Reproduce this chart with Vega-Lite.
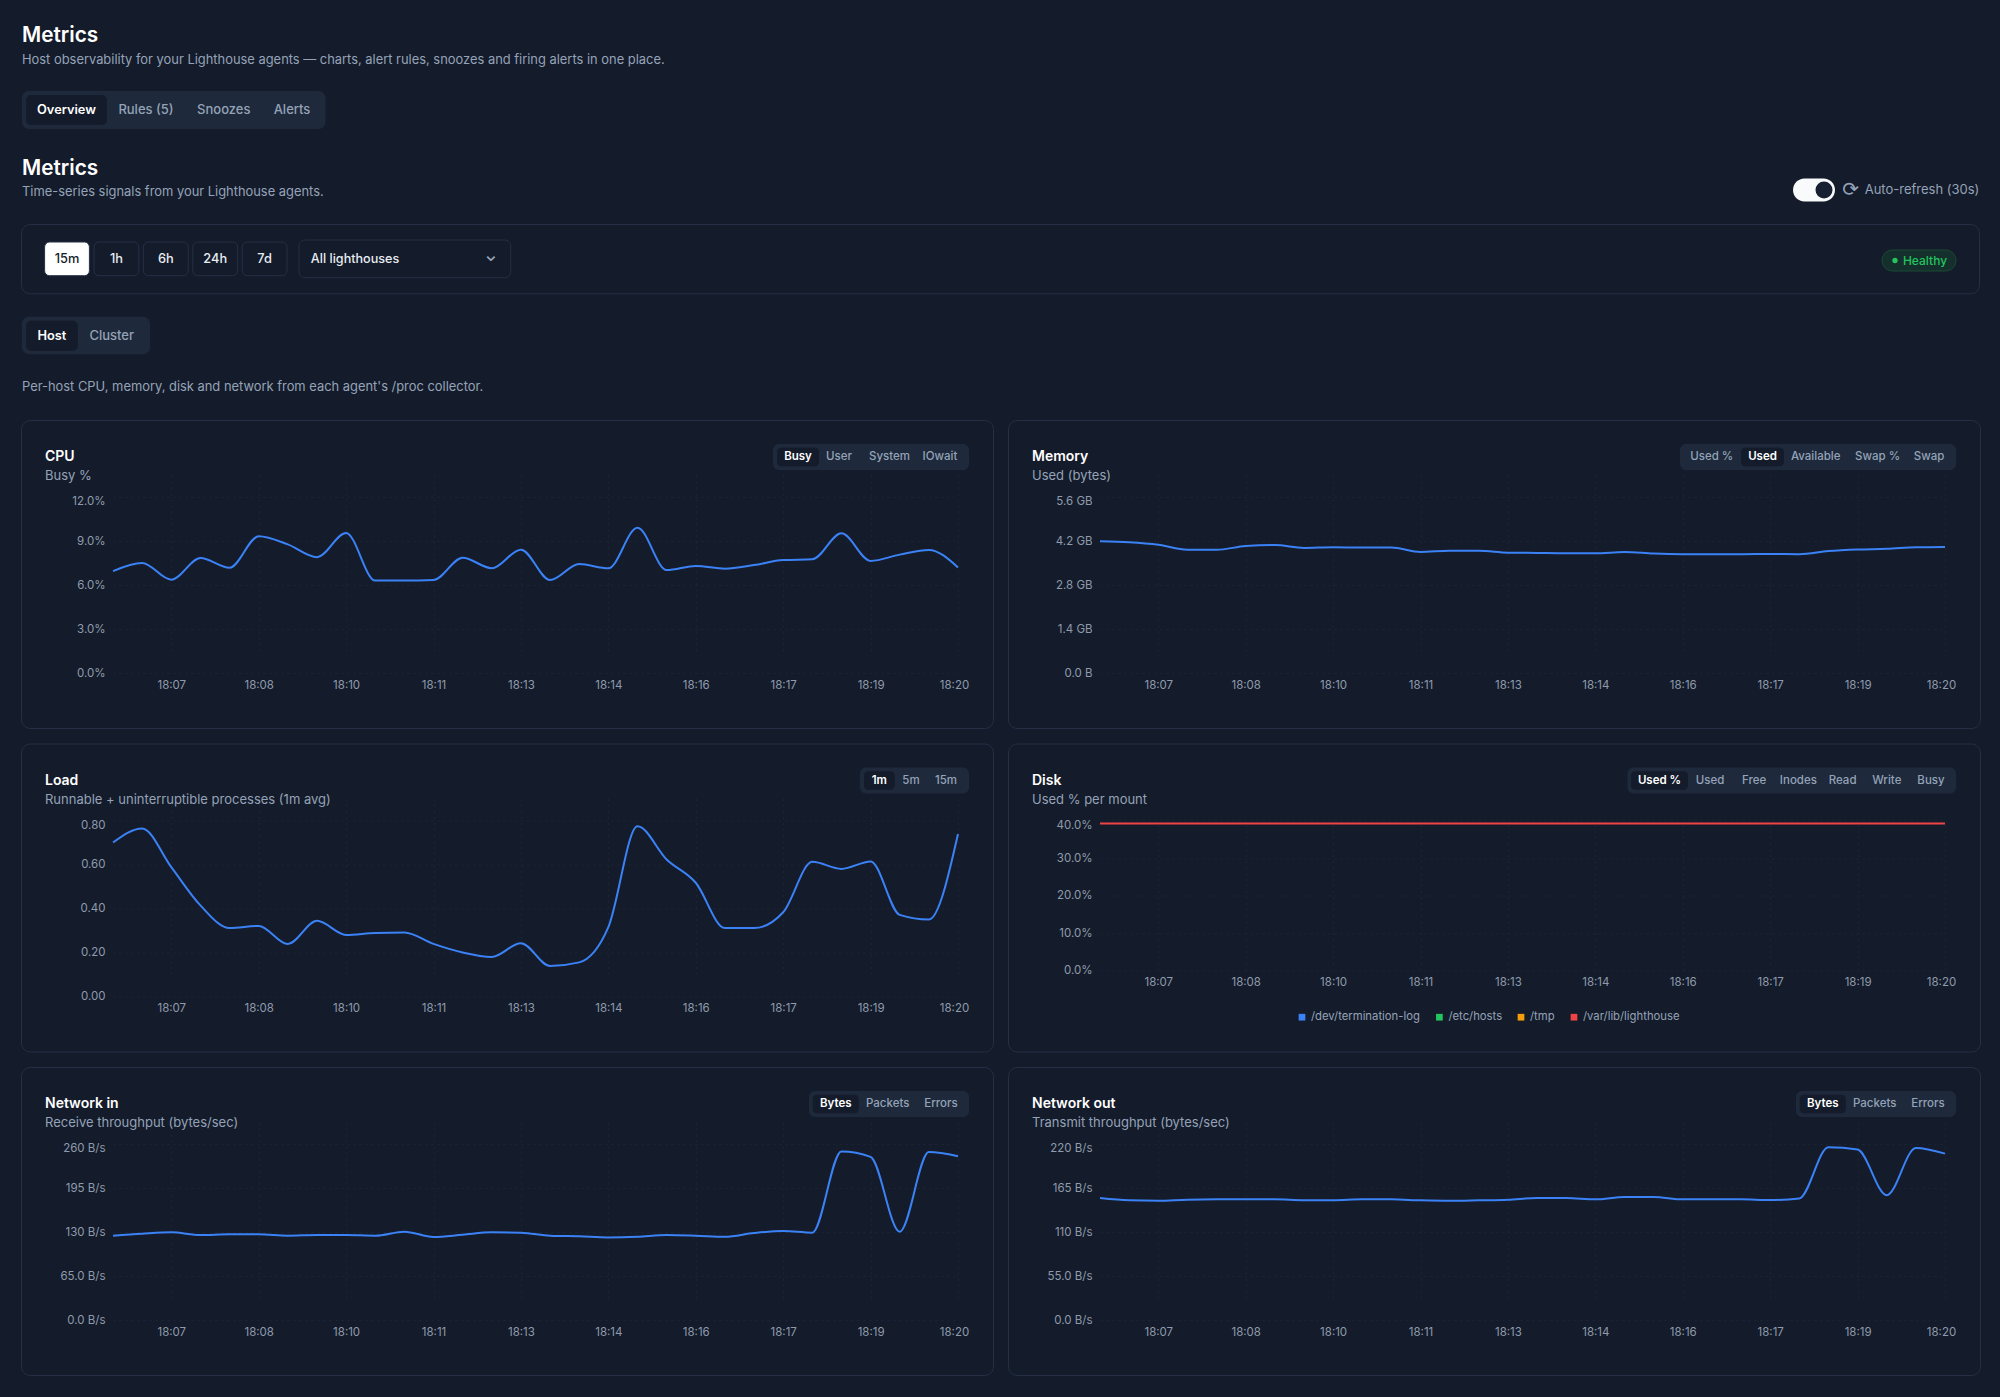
{"$schema":"https://vega.github.io/schema/vega-lite/v6.json","background":"#141b2a","padding":{"left":20,"top":0,"right":21,"bottom":22},"spacing":0,"config":{"font":"Inter","view":{"stroke":null},"text":{"font":"Inter","baseline":"middle"},"axis":{"domain":false,"ticks":false,"title":null,"labelFont":"Inter","labelFontSize":11.5,"labelColor":"#8f9bad","gridColor":"#1c2536","gridDash":[2,4],"labelOverlap":false,"labelFlush":false},"title":{"font":"Inter","fontSize":14,"fontWeight":600,"color":"#ffffff","subtitleFont":"Inter","subtitleFontSize":13,"subtitleColor":"#94a3b8","subtitlePadding":6,"anchor":"start","frame":"group","orient":"top","dx":24,"offset":-63}},"datasets":{"cpu":[{"t":"2025-01-01T18:06:00","v":6.95},{"t":"2025-01-01T18:06:30","v":7.5},{"t":"2025-01-01T18:07:00","v":6.36},{"t":"2025-01-01T18:07:30","v":7.84},{"t":"2025-01-01T18:08:00","v":7.18},{"t":"2025-01-01T18:08:30","v":9.32},{"t":"2025-01-01T18:09:00","v":8.77},{"t":"2025-01-01T18:09:30","v":7.9},{"t":"2025-01-01T18:10:00","v":9.55},{"t":"2025-01-01T18:10:30","v":6.3},{"t":"2025-01-01T18:11:00","v":6.3},{"t":"2025-01-01T18:11:30","v":6.34},{"t":"2025-01-01T18:12:00","v":7.86},{"t":"2025-01-01T18:12:30","v":7.14},{"t":"2025-01-01T18:13:00","v":8.41},{"t":"2025-01-01T18:13:30","v":6.34},{"t":"2025-01-01T18:14:00","v":7.43},{"t":"2025-01-01T18:14:30","v":7.14},{"t":"2025-01-01T18:15:00","v":9.91},{"t":"2025-01-01T18:15:30","v":7.02},{"t":"2025-01-01T18:16:00","v":7.3},{"t":"2025-01-01T18:16:30","v":7.11},{"t":"2025-01-01T18:17:00","v":7.36},{"t":"2025-01-01T18:17:30","v":7.7},{"t":"2025-01-01T18:18:00","v":7.75},{"t":"2025-01-01T18:18:30","v":9.52},{"t":"2025-01-01T18:19:00","v":7.64},{"t":"2025-01-01T18:19:30","v":8.07},{"t":"2025-01-01T18:20:00","v":8.39},{"t":"2025-01-01T18:20:30","v":7.2}],"memory":[{"t":"2025-01-01T18:06:00","v":4.19},{"t":"2025-01-01T18:06:30","v":4.16},{"t":"2025-01-01T18:07:00","v":4.08},{"t":"2025-01-01T18:07:30","v":3.92},{"t":"2025-01-01T18:08:00","v":3.92},{"t":"2025-01-01T18:08:30","v":4.04},{"t":"2025-01-01T18:09:00","v":4.07},{"t":"2025-01-01T18:09:30","v":3.98},{"t":"2025-01-01T18:10:00","v":4.0},{"t":"2025-01-01T18:10:30","v":3.99},{"t":"2025-01-01T18:11:00","v":3.99},{"t":"2025-01-01T18:11:30","v":3.85},{"t":"2025-01-01T18:12:00","v":3.89},{"t":"2025-01-01T18:12:30","v":3.89},{"t":"2025-01-01T18:13:00","v":3.83},{"t":"2025-01-01T18:13:30","v":3.82},{"t":"2025-01-01T18:14:00","v":3.81},{"t":"2025-01-01T18:14:30","v":3.81},{"t":"2025-01-01T18:15:00","v":3.85},{"t":"2025-01-01T18:15:30","v":3.8},{"t":"2025-01-01T18:16:00","v":3.78},{"t":"2025-01-01T18:16:30","v":3.78},{"t":"2025-01-01T18:17:00","v":3.78},{"t":"2025-01-01T18:17:30","v":3.79},{"t":"2025-01-01T18:18:00","v":3.78},{"t":"2025-01-01T18:18:30","v":3.88},{"t":"2025-01-01T18:19:00","v":3.93},{"t":"2025-01-01T18:19:30","v":3.95},{"t":"2025-01-01T18:20:00","v":4.0},{"t":"2025-01-01T18:20:30","v":4.01}],"load":[{"t":"2025-01-01T18:06:00","v":0.7},{"t":"2025-01-01T18:06:30","v":0.764},{"t":"2025-01-01T18:07:00","v":0.588},{"t":"2025-01-01T18:07:30","v":0.414},{"t":"2025-01-01T18:08:00","v":0.311},{"t":"2025-01-01T18:08:30","v":0.321},{"t":"2025-01-01T18:09:00","v":0.239},{"t":"2025-01-01T18:09:30","v":0.344},{"t":"2025-01-01T18:10:00","v":0.28},{"t":"2025-01-01T18:10:30","v":0.289},{"t":"2025-01-01T18:11:00","v":0.291},{"t":"2025-01-01T18:11:30","v":0.239},{"t":"2025-01-01T18:12:00","v":0.2},{"t":"2025-01-01T18:12:30","v":0.18},{"t":"2025-01-01T18:13:00","v":0.242},{"t":"2025-01-01T18:13:30","v":0.139},{"t":"2025-01-01T18:14:00","v":0.155},{"t":"2025-01-01T18:14:30","v":0.315},{"t":"2025-01-01T18:15:00","v":0.774},{"t":"2025-01-01T18:15:30","v":0.623},{"t":"2025-01-01T18:16:00","v":0.517},{"t":"2025-01-01T18:16:30","v":0.311},{"t":"2025-01-01T18:17:00","v":0.311},{"t":"2025-01-01T18:17:30","v":0.383},{"t":"2025-01-01T18:18:00","v":0.612},{"t":"2025-01-01T18:18:30","v":0.58},{"t":"2025-01-01T18:19:00","v":0.614},{"t":"2025-01-01T18:19:30","v":0.371},{"t":"2025-01-01T18:20:00","v":0.35},{"t":"2025-01-01T18:20:30","v":0.739}],"netin":[{"t":"2025-01-01T18:06:00","v":124.6},{"t":"2025-01-01T18:06:30","v":127.5},{"t":"2025-01-01T18:07:00","v":129.5},{"t":"2025-01-01T18:07:30","v":125.6},{"t":"2025-01-01T18:08:00","v":126.5},{"t":"2025-01-01T18:08:30","v":126.5},{"t":"2025-01-01T18:09:00","v":124.6},{"t":"2025-01-01T18:09:30","v":125.6},{"t":"2025-01-01T18:10:00","v":125.6},{"t":"2025-01-01T18:10:30","v":124.6},{"t":"2025-01-01T18:11:00","v":130.5},{"t":"2025-01-01T18:11:30","v":122.6},{"t":"2025-01-01T18:12:00","v":126},{"t":"2025-01-01T18:12:30","v":129.5},{"t":"2025-01-01T18:13:00","v":129},{"t":"2025-01-01T18:13:30","v":124.6},{"t":"2025-01-01T18:14:00","v":123.6},{"t":"2025-01-01T18:14:30","v":122},{"t":"2025-01-01T18:15:00","v":123},{"t":"2025-01-01T18:15:30","v":125.6},{"t":"2025-01-01T18:16:00","v":124.6},{"t":"2025-01-01T18:16:30","v":123},{"t":"2025-01-01T18:17:00","v":128.5},{"t":"2025-01-01T18:17:30","v":131.5},{"t":"2025-01-01T18:18:00","v":129},{"t":"2025-01-01T18:18:30","v":249},{"t":"2025-01-01T18:19:00","v":241},{"t":"2025-01-01T18:19:30","v":130.5},{"t":"2025-01-01T18:20:00","v":248},{"t":"2025-01-01T18:20:30","v":242}],"netout":[{"t":"2025-01-01T18:06:00","v":152.5},{"t":"2025-01-01T18:06:30","v":149.6},{"t":"2025-01-01T18:07:00","v":149},{"t":"2025-01-01T18:07:30","v":150.4},{"t":"2025-01-01T18:08:00","v":150.8},{"t":"2025-01-01T18:08:30","v":150.8},{"t":"2025-01-01T18:09:00","v":150.8},{"t":"2025-01-01T18:09:30","v":149.6},{"t":"2025-01-01T18:10:00","v":149.6},{"t":"2025-01-01T18:10:30","v":150.8},{"t":"2025-01-01T18:11:00","v":150.8},{"t":"2025-01-01T18:11:30","v":149.6},{"t":"2025-01-01T18:12:00","v":149},{"t":"2025-01-01T18:12:30","v":149.6},{"t":"2025-01-01T18:13:00","v":150.4},{"t":"2025-01-01T18:13:30","v":152.5},{"t":"2025-01-01T18:14:00","v":152.5},{"t":"2025-01-01T18:14:30","v":150.8},{"t":"2025-01-01T18:15:00","v":153.8},{"t":"2025-01-01T18:15:30","v":153.8},{"t":"2025-01-01T18:16:00","v":150.8},{"t":"2025-01-01T18:16:30","v":150.8},{"t":"2025-01-01T18:17:00","v":150.8},{"t":"2025-01-01T18:17:30","v":150},{"t":"2025-01-01T18:18:00","v":152},{"t":"2025-01-01T18:18:30","v":216},{"t":"2025-01-01T18:19:00","v":213},{"t":"2025-01-01T18:19:30","v":156},{"t":"2025-01-01T18:20:00","v":215},{"t":"2025-01-01T18:20:30","v":208}],"disk":[{"t":"2025-01-01T18:06:00","v":39.2},{"t":"2025-01-01T18:06:30","v":39.2},{"t":"2025-01-01T18:07:00","v":39.2},{"t":"2025-01-01T18:07:30","v":39.2},{"t":"2025-01-01T18:08:00","v":39.2},{"t":"2025-01-01T18:08:30","v":39.2},{"t":"2025-01-01T18:09:00","v":39.2},{"t":"2025-01-01T18:09:30","v":39.2},{"t":"2025-01-01T18:10:00","v":39.2},{"t":"2025-01-01T18:10:30","v":39.2},{"t":"2025-01-01T18:11:00","v":39.2},{"t":"2025-01-01T18:11:30","v":39.2},{"t":"2025-01-01T18:12:00","v":39.2},{"t":"2025-01-01T18:12:30","v":39.2},{"t":"2025-01-01T18:13:00","v":39.2},{"t":"2025-01-01T18:13:30","v":39.2},{"t":"2025-01-01T18:14:00","v":39.2},{"t":"2025-01-01T18:14:30","v":39.2},{"t":"2025-01-01T18:15:00","v":39.2},{"t":"2025-01-01T18:15:30","v":39.2},{"t":"2025-01-01T18:16:00","v":39.2},{"t":"2025-01-01T18:16:30","v":39.2},{"t":"2025-01-01T18:17:00","v":39.2},{"t":"2025-01-01T18:17:30","v":39.2},{"t":"2025-01-01T18:18:00","v":39.2},{"t":"2025-01-01T18:18:30","v":39.2},{"t":"2025-01-01T18:19:00","v":39.2},{"t":"2025-01-01T18:19:30","v":39.2},{"t":"2025-01-01T18:20:00","v":39.2},{"t":"2025-01-01T18:20:30","v":39.2}]},"vconcat":[{"width":1958,"height":91,"resolve":{"scale":{"x":"independent","y":"independent"}},"layer":[{"data":{"values":[{"label":"Metrics"}]},"mark":{"type":"text","align":"left","fontSize":20.8,"fontWeight":600,"color":"#ffffff"},"encoding":{"text":{"field":"label"},"x":{"field":"label","type":"nominal","axis":null,"scale":{"range":[1,1],"padding":0}},"y":{"field":"label","type":"nominal","axis":null,"scale":{"range":[36,36],"padding":0}}}},{"data":{"values":[{"label":"Host observability for your Lighthouse agents — charts, alert rules, snoozes and firing alerts in one place."}]},"mark":{"type":"text","align":"left","fontSize":12.9,"color":"#94a3b8"},"encoding":{"text":{"field":"label"},"x":{"field":"label","type":"nominal","axis":null,"scale":{"range":[1,1],"padding":0}},"y":{"field":"label","type":"nominal","axis":null,"scale":{"range":[60,60],"padding":0}}}}]},{"width":1958,"height":38,"resolve":{"scale":{"x":"independent","y":"independent"}},"layer":[{"data":{"values":[{"tabs":"Section"}]},"mark":{"type":"rect","fill":"#1e293b","cornerRadius":7},"encoding":{"x":{"field":"tabs","type":"nominal","axis":null,"scale":{"type":"band","range":[1,304.5],"paddingInner":0,"paddingOuter":0}},"y":{"field":"tabs","type":"nominal","axis":null,"scale":{"type":"band","range":[0,38],"paddingInner":0,"paddingOuter":0}}}},{"data":{"values":[{"tab":"Overview"}]},"encoding":{"x":{"field":"tab","type":"nominal","axis":null,"scale":{"type":"band","range":[5,86],"paddingInner":0,"paddingOuter":0}},"y":{"field":"tab","type":"nominal","axis":null,"scale":{"type":"band","range":[4,34],"paddingInner":0,"paddingOuter":0}}},"layer":[{"mark":{"type":"rect","fill":"#141b2a","cornerRadius":5}},{"mark":{"type":"text","fontSize":12.8,"fontWeight":600,"color":"#ffffff"},"encoding":{"text":{"field":"tab"}}}]},{"data":{"values":[{"tab":"Rules (5)"}]},"mark":{"type":"text","fontSize":13,"fontWeight":500,"color":"#94a3b8"},"encoding":{"text":{"field":"tab"},"x":{"field":"tab","type":"nominal","axis":null,"scale":{"range":[125,125],"padding":0}},"y":{"datum":"tabs","type":"nominal","axis":null,"scale":{"type":"band","range":[0,38],"paddingInner":0,"paddingOuter":0}}}},{"data":{"values":[{"tab":"Snoozes"},{"tab":"Alerts"}]},"mark":{"type":"text","fontSize":13,"fontWeight":500,"color":"#94a3b8"},"encoding":{"text":{"field":"tab"},"x":{"field":"tab","type":"nominal","axis":null,"scale":{"domain":["Snoozes","Alerts"],"range":[202.8,271],"padding":0}},"y":{"datum":"tabs","type":"nominal","axis":null,"scale":{"type":"band","range":[0,38],"paddingInner":0,"paddingOuter":0}}}}]},{"width":1958,"height":93.7,"resolve":{"scale":{"x":"independent","y":"independent"}},"layer":[{"data":{"values":[{"label":"Metrics"}]},"mark":{"type":"text","align":"left","fontSize":20.8,"fontWeight":600,"color":"#ffffff"},"encoding":{"text":{"field":"label"},"x":{"field":"label","type":"nominal","axis":null,"scale":{"range":[1,1],"padding":0}},"y":{"field":"label","type":"nominal","axis":null,"scale":{"range":[39.5,39.5],"padding":0}}}},{"data":{"values":[{"label":"Time-series signals from your Lighthouse agents."}]},"mark":{"type":"text","align":"left","fontSize":12.9,"color":"#94a3b8"},"encoding":{"text":{"field":"label"},"x":{"field":"label","type":"nominal","axis":null,"scale":{"range":[1,1],"padding":0}},"y":{"field":"label","type":"nominal","axis":null,"scale":{"range":[63,63],"padding":0}}}},{"data":{"values":[{"toggle":"Auto-refresh"}]},"encoding":{"x":{"field":"toggle","type":"nominal","axis":null,"scale":{"type":"band","range":[1772,1814],"paddingInner":0,"paddingOuter":0}},"y":{"field":"toggle","type":"nominal","axis":null,"scale":{"type":"band","range":[49.5,72.5],"paddingInner":0,"paddingOuter":0}}},"layer":[{"mark":{"type":"rect","fill":"#f8fafc","cornerRadius":11.5}},{"mark":{"type":"circle","size":290,"opacity":1,"color":"#172033","xOffset":10}}]},{"data":{"values":[{"label":"Auto-refresh (30s)"}]},"encoding":{"x":{"field":"label","type":"nominal","axis":null,"scale":{"range":[1843.7,1843.7],"padding":0}},"y":{"field":"label","type":"nominal","axis":null,"scale":{"range":[61,61],"padding":0}}},"layer":[{"mark":{"type":"text","align":"left","fontSize":13,"color":"#94a3b8"},"encoding":{"text":{"field":"label"}}},{"mark":{"type":"text","text":"⟳","font":"DejaVu Sans","fontSize":20,"color":"#94a3b8","xOffset":-14}}]}]},{"width":1958,"height":69.3,"view":{"stroke":"#253047","cornerRadius":9,"fill":"#141b2a"},"resolve":{"scale":{"x":"independent","y":"independent"}},"layer":[{"data":{"values":[{"range":"15m","active":true},{"range":"1h","active":false},{"range":"6h","active":false},{"range":"24h","active":false},{"range":"7d","active":false}]},"encoding":{"x":{"field":"range","type":"nominal","axis":null,"scale":{"type":"band","domain":["15m","1h","6h","24h","7d"],"range":[23.6,266],"paddingInner":0.093,"paddingOuter":0}},"y":{"datum":"btn","type":"nominal","axis":null,"scale":{"type":"band","range":[18,51.7],"paddingInner":0,"paddingOuter":0}}},"layer":[{"mark":{"type":"rect","cornerRadius":5,"stroke":"#253047"},"encoding":{"fill":{"condition":{"test":"datum.active","value":"#ffffff"},"value":"#141b2a"}}},{"mark":{"type":"text","fontSize":12.8,"fontWeight":500},"encoding":{"text":{"field":"range"},"color":{"condition":{"test":"datum.active","value":"#141b2a"},"value":"#e8edf3"}}}]},{"data":{"values":[{"label":"All lighthouses"}]},"encoding":{"x":{"field":"label","type":"nominal","axis":null,"scale":{"type":"band","range":[278,489.7],"paddingInner":0,"paddingOuter":0}},"y":{"field":"label","type":"nominal","axis":null,"scale":{"type":"band","range":[16,53.7],"paddingInner":0,"paddingOuter":0}}},"layer":[{"mark":{"type":"rect","fill":"#141b2a","stroke":"#253047","cornerRadius":6}},{"mark":{"type":"text","align":"left","dx":-94,"fontSize":12.6,"fontWeight":500,"color":"#e8edf3"},"encoding":{"text":{"field":"label"}}},{"mark":{"type":"text","text":"⌄","font":"DejaVu Sans","fontSize":20,"dx":86,"dy":-4,"color":"#94a3b8"}}]},{"data":{"values":[{"status":"Healthy"}]},"encoding":{"x":{"field":"status","type":"nominal","axis":null,"scale":{"type":"band","range":[1861,1935],"paddingInner":0,"paddingOuter":0}},"y":{"field":"status","type":"nominal","axis":null,"scale":{"type":"band","range":[26,47],"paddingInner":0,"paddingOuter":0}}},"layer":[{"mark":{"type":"rect","fill":"#15302c","stroke":"#1b4a35","cornerRadius":10.5}},{"mark":{"type":"text","dx":6,"fontSize":12,"fontWeight":500,"color":"#22c55e"},"encoding":{"text":{"field":"status"}}},{"mark":{"type":"circle","size":28,"opacity":1,"color":"#22c55e","xOffset":-24}}]}]},{"width":1958,"height":124.5,"resolve":{"scale":{"x":"independent","y":"independent"}},"layer":[{"data":{"values":[{"tabs":"Scope"}]},"mark":{"type":"rect","fill":"#1e293b","cornerRadius":7},"encoding":{"x":{"field":"tabs","type":"nominal","axis":null,"scale":{"type":"band","range":[1,129],"paddingInner":0,"paddingOuter":0}},"y":{"field":"tabs","type":"nominal","axis":null,"scale":{"type":"band","range":[22.7,60.3],"paddingInner":0,"paddingOuter":0}}}},{"data":{"values":[{"tab":"Host"}]},"encoding":{"x":{"field":"tab","type":"nominal","axis":null,"scale":{"type":"band","range":[5,56.8],"paddingInner":0,"paddingOuter":0}},"y":{"field":"tab","type":"nominal","axis":null,"scale":{"type":"band","range":[26.7,56.7],"paddingInner":0,"paddingOuter":0}}},"layer":[{"mark":{"type":"rect","fill":"#141b2a","cornerRadius":5}},{"mark":{"type":"text","fontSize":12.8,"fontWeight":600,"color":"#ffffff"},"encoding":{"text":{"field":"tab"}}}]},{"data":{"values":[{"tab":"Cluster"}]},"mark":{"type":"text","fontSize":13,"fontWeight":500,"color":"#94a3b8"},"encoding":{"text":{"field":"tab"},"x":{"field":"tab","type":"nominal","axis":null,"scale":{"range":[90.7,90.7],"padding":0}},"y":{"field":"tab","type":"nominal","axis":null,"scale":{"range":[42,42],"padding":0}}}},{"data":{"values":[{"label":"Per-host CPU, memory, disk and network from each agent's /proc collector."}]},"mark":{"type":"text","align":"left","fontSize":12.9,"color":"#94a3b8"},"encoding":{"text":{"field":"label"},"x":{"field":"label","type":"nominal","axis":null,"scale":{"range":[1,1],"padding":0}},"y":{"field":"label","type":"nominal","axis":null,"scale":{"range":[93,93],"padding":0}}}}]},{"spacing":13.5,"vconcat":[{"spacing":13,"hconcat":[{"width":972,"height":308,"title":{"text":"CPU","subtitle":"Busy %"},"view":{"stroke":"#253047","cornerRadius":9,"fill":"#141b2a"},"resolve":{"scale":{"x":"independent","y":"independent"}},"layer":[{"data":{"name":"cpu"},"mark":{"type":"line","interpolate":"monotone","color":"#3b82f6","strokeWidth":2},"encoding":{"x":{"field":"t","type":"temporal","scale":{"range":[92,937]},"axis":{"offset":-55,"labelPadding":6,"format":"%H:%M","grid":true,"values":["2025-01-01T18:07:00","2025-01-01T18:08:30","2025-01-01T18:10:00","2025-01-01T18:11:30","2025-01-01T18:13:00","2025-01-01T18:14:30","2025-01-01T18:16:00","2025-01-01T18:17:30","2025-01-01T18:19:00","2025-01-01T18:20:30"],"labelOffset":{"condition":{"test":"datum.index>=1","value":-4},"value":0}}},"y":{"field":"v","type":"quantitative","scale":{"domain":[0,12],"nice":false,"range":[253,77]},"axis":{"offset":-91,"labelPadding":7,"grid":true,"values":[0,3,6,9,12],"labelExpr":"format(datum.value,'.1f')+'%'","labelOffset":{"condition":{"test":"datum.index>=1","value":4.5},"value":0}}}}},{"data":{"values":[{"tabs":"CPU"}]},"mark":{"type":"rect","fill":"#1e293b","cornerRadius":6},"encoding":{"x":{"field":"tabs","type":"nominal","axis":null,"scale":{"type":"band","range":[752,948],"paddingInner":0,"paddingOuter":0}},"y":{"field":"tabs","type":"nominal","axis":null,"scale":{"type":"band","range":[24,50],"paddingInner":0,"paddingOuter":0}}}},{"data":{"values":[{"tab":"Busy"}]},"encoding":{"x":{"field":"tab","type":"nominal","axis":null,"scale":{"type":"band","range":[756,798],"paddingInner":0,"paddingOuter":0}},"y":{"field":"tab","type":"nominal","axis":null,"scale":{"type":"band","range":[27.7,46.3],"paddingInner":0,"paddingOuter":0}}},"layer":[{"mark":{"type":"rect","fill":"#141b2a","cornerRadius":4}},{"mark":{"type":"text","fontSize":11.5,"fontWeight":600,"color":"#ffffff"},"encoding":{"text":{"field":"tab"}}}]},{"data":{"values":[{"tab":"User"},{"tab":"System"},{"tab":"IOwait"}]},"mark":{"type":"text","fontSize":11.5,"fontWeight":500,"color":"#94a3b8"},"encoding":{"text":{"field":"tab"},"x":{"field":"tab","type":"nominal","axis":null,"scale":{"domain":["User","System","IOwait"],"range":[818,919],"padding":0}},"y":{"datum":"tabs","type":"nominal","axis":null,"scale":{"type":"band","range":[24,50],"paddingInner":0,"paddingOuter":0}}}}]},{"width":972,"height":308,"title":{"text":"Memory","subtitle":"Used (bytes)"},"view":{"stroke":"#253047","cornerRadius":9,"fill":"#141b2a"},"resolve":{"scale":{"x":"independent","y":"independent"}},"layer":[{"data":{"name":"memory"},"mark":{"type":"line","interpolate":"monotone","color":"#3b82f6","strokeWidth":2},"encoding":{"x":{"field":"t","type":"temporal","scale":{"range":[92,937]},"axis":{"offset":-55,"labelPadding":6,"format":"%H:%M","grid":true,"values":["2025-01-01T18:07:00","2025-01-01T18:08:30","2025-01-01T18:10:00","2025-01-01T18:11:30","2025-01-01T18:13:00","2025-01-01T18:14:30","2025-01-01T18:16:00","2025-01-01T18:17:30","2025-01-01T18:19:00","2025-01-01T18:20:30"],"labelOffset":{"condition":{"test":"datum.index>=1","value":-4},"value":0}}},"y":{"field":"v","type":"quantitative","scale":{"domain":[0,5.6],"nice":false,"range":[253,77]},"axis":{"offset":-91,"labelPadding":7,"grid":true,"values":[0,1.4,2.8,4.2,5.6],"labelExpr":"datum.value==0?'0.0 B':format(datum.value,'.1f')+' GB'","labelOffset":{"condition":{"test":"datum.index>=1","value":4.5},"value":0}}}}},{"data":{"values":[{"tabs":"Memory"}]},"mark":{"type":"rect","fill":"#1e293b","cornerRadius":6},"encoding":{"x":{"field":"tabs","type":"nominal","axis":null,"scale":{"type":"band","range":[672,948],"paddingInner":0,"paddingOuter":0}},"y":{"field":"tabs","type":"nominal","axis":null,"scale":{"type":"band","range":[24,50],"paddingInner":0,"paddingOuter":0}}}},{"data":{"values":[{"tab":"Used"}]},"encoding":{"x":{"field":"tab","type":"nominal","axis":null,"scale":{"type":"band","range":[733,776],"paddingInner":0,"paddingOuter":0}},"y":{"field":"tab","type":"nominal","axis":null,"scale":{"type":"band","range":[27.7,46.3],"paddingInner":0,"paddingOuter":0}}},"layer":[{"mark":{"type":"rect","fill":"#141b2a","cornerRadius":4}},{"mark":{"type":"text","fontSize":11.5,"fontWeight":600,"color":"#ffffff"},"encoding":{"text":{"field":"tab"}}}]},{"data":{"values":[{"tab":"Used %"}]},"mark":{"type":"text","fontSize":11.5,"fontWeight":500,"color":"#94a3b8"},"encoding":{"text":{"field":"tab"},"x":{"field":"tab","type":"nominal","axis":null,"scale":{"range":[703.7,703.7],"padding":0}},"y":{"datum":"tabs","type":"nominal","axis":null,"scale":{"type":"band","range":[24,50],"paddingInner":0,"paddingOuter":0}}}},{"data":{"values":[{"tab":"Available"}]},"mark":{"type":"text","fontSize":11.5,"fontWeight":500,"color":"#94a3b8"},"encoding":{"text":{"field":"tab"},"x":{"field":"tab","type":"nominal","axis":null,"scale":{"range":[807.7,807.7],"padding":0}},"y":{"datum":"tabs","type":"nominal","axis":null,"scale":{"type":"band","range":[24,50],"paddingInner":0,"paddingOuter":0}}}},{"data":{"values":[{"tab":"Swap %"},{"tab":"Swap"}]},"mark":{"type":"text","fontSize":11.5,"fontWeight":500,"color":"#94a3b8"},"encoding":{"text":{"field":"tab"},"x":{"field":"tab","type":"nominal","axis":null,"scale":{"domain":["Swap %","Swap"],"range":[869.6,921],"padding":0}},"y":{"datum":"tabs","type":"nominal","axis":null,"scale":{"type":"band","range":[24,50],"paddingInner":0,"paddingOuter":0}}}}]}]},{"spacing":13,"hconcat":[{"width":972,"height":308,"title":{"text":"Load","subtitle":"Runnable + uninterruptible processes (1m avg)"},"view":{"stroke":"#253047","cornerRadius":9,"fill":"#141b2a"},"resolve":{"scale":{"x":"independent","y":"independent"}},"layer":[{"data":{"name":"load"},"mark":{"type":"line","interpolate":"monotone","color":"#3b82f6","strokeWidth":2},"encoding":{"x":{"field":"t","type":"temporal","scale":{"range":[92,937]},"axis":{"offset":-55,"labelPadding":6,"format":"%H:%M","grid":true,"values":["2025-01-01T18:07:00","2025-01-01T18:08:30","2025-01-01T18:10:00","2025-01-01T18:11:30","2025-01-01T18:13:00","2025-01-01T18:14:30","2025-01-01T18:16:00","2025-01-01T18:17:30","2025-01-01T18:19:00","2025-01-01T18:20:30"],"labelOffset":{"condition":{"test":"datum.index>=1","value":-4},"value":0}}},"y":{"field":"v","type":"quantitative","scale":{"domain":[0,0.8],"nice":false,"range":[253,77]},"axis":{"offset":-91,"labelPadding":7,"grid":true,"values":[0,0.2,0.4,0.6,0.8],"format":".2f","labelOffset":{"condition":{"test":"datum.index>=1","value":4.5},"value":0}}}}},{"data":{"values":[{"tabs":"Load"}]},"mark":{"type":"rect","fill":"#1e293b","cornerRadius":6},"encoding":{"x":{"field":"tabs","type":"nominal","axis":null,"scale":{"type":"band","range":[839,948],"paddingInner":0,"paddingOuter":0}},"y":{"field":"tabs","type":"nominal","axis":null,"scale":{"type":"band","range":[24,50],"paddingInner":0,"paddingOuter":0}}}},{"data":{"values":[{"tab":"1m"}]},"encoding":{"x":{"field":"tab","type":"nominal","axis":null,"scale":{"type":"band","range":[843,873.7],"paddingInner":0,"paddingOuter":0}},"y":{"field":"tab","type":"nominal","axis":null,"scale":{"type":"band","range":[27.7,46.3],"paddingInner":0,"paddingOuter":0}}},"layer":[{"mark":{"type":"rect","fill":"#141b2a","cornerRadius":4}},{"mark":{"type":"text","fontSize":11.5,"fontWeight":600,"color":"#ffffff"},"encoding":{"text":{"field":"tab"}}}]},{"data":{"values":[{"tab":"5m"},{"tab":"15m"}]},"mark":{"type":"text","fontSize":11.5,"fontWeight":500,"color":"#94a3b8"},"encoding":{"text":{"field":"tab"},"x":{"field":"tab","type":"nominal","axis":null,"scale":{"domain":["5m","15m"],"range":[890,925],"padding":0}},"y":{"datum":"tabs","type":"nominal","axis":null,"scale":{"type":"band","range":[24,50],"paddingInner":0,"paddingOuter":0}}}}]},{"width":972,"height":308,"title":{"text":"Disk","subtitle":"Used % per mount"},"view":{"stroke":"#253047","cornerRadius":9,"fill":"#141b2a"},"resolve":{"scale":{"x":"independent","y":"independent"}},"layer":[{"data":{"name":"disk"},"mark":{"type":"line","interpolate":"monotone","strokeWidth":2},"encoding":{"color":{"datum":"/var/lib/lighthouse","type":"nominal","legend":null,"scale":{"domain":["/dev/termination-log","/etc/hosts","/tmp","/var/lib/lighthouse"],"range":["#3b82f6","#22c55e","#f59e0b","#ef4444"]}},"x":{"field":"t","type":"temporal","scale":{"range":[92,937]},"axis":{"offset":-81,"labelPadding":6,"format":"%H:%M","grid":true,"values":["2025-01-01T18:07:00","2025-01-01T18:08:30","2025-01-01T18:10:00","2025-01-01T18:11:30","2025-01-01T18:13:00","2025-01-01T18:14:30","2025-01-01T18:16:00","2025-01-01T18:17:30","2025-01-01T18:19:00","2025-01-01T18:20:30"],"labelOffset":{"condition":{"test":"datum.index>=1","value":-4},"value":0}}},"y":{"field":"v","type":"quantitative","scale":{"domain":[0,40],"nice":false,"range":[227,77]},"axis":{"offset":-91,"labelPadding":7,"grid":true,"values":[0,10,20,30,40],"labelExpr":"format(datum.value,'.1f')+'%'","labelOffset":{"condition":{"test":"datum.index>=1","value":4.5},"value":0}}}}},{"data":{"values":[{"tabs":"Disk"}]},"mark":{"type":"rect","fill":"#1e293b","cornerRadius":6},"encoding":{"x":{"field":"tabs","type":"nominal","axis":null,"scale":{"type":"band","range":[619.5,948],"paddingInner":0,"paddingOuter":0}},"y":{"field":"tabs","type":"nominal","axis":null,"scale":{"type":"band","range":[24,50],"paddingInner":0,"paddingOuter":0}}}},{"data":{"values":[{"tab":"Used %"}]},"encoding":{"x":{"field":"tab","type":"nominal","axis":null,"scale":{"type":"band","range":[623,680],"paddingInner":0,"paddingOuter":0}},"y":{"field":"tab","type":"nominal","axis":null,"scale":{"type":"band","range":[27.7,46.3],"paddingInner":0,"paddingOuter":0}}},"layer":[{"mark":{"type":"rect","fill":"#141b2a","cornerRadius":4}},{"mark":{"type":"text","fontSize":11.5,"fontWeight":600,"color":"#ffffff"},"encoding":{"text":{"field":"tab"}}}]},{"data":{"values":[{"tab":"Used"},{"tab":"Free"},{"tab":"Inodes"},{"tab":"Read"},{"tab":"Write"},{"tab":"Busy"}]},"mark":{"type":"text","fontSize":11.5,"fontWeight":500,"color":"#94a3b8"},"encoding":{"text":{"field":"tab"},"x":{"field":"tab","type":"nominal","axis":null,"scale":{"domain":["Used","Free","Inodes","Read","Write","Busy"],"range":[702,923],"padding":0}},"y":{"datum":"tabs","type":"nominal","axis":null,"scale":{"type":"band","range":[24,50],"paddingInner":0,"paddingOuter":0}}}},{"data":{"values":[{"mount":"/dev/termination-log"}]},"encoding":{"x":{"field":"mount","type":"nominal","axis":null,"scale":{"range":[294,294],"padding":0}},"y":{"field":"mount","type":"nominal","axis":null,"scale":{"range":[273.7,273.7],"padding":0}},"color":{"field":"mount","type":"nominal","legend":null}},"layer":[{"mark":{"type":"square","size":45,"opacity":1,"filled":true}},{"mark":{"type":"text","align":"left","dx":9,"fontSize":11.3,"color":"#94a3b8"},"encoding":{"text":{"field":"mount"},"color":{"value":"#94a3b8"}}}]},{"data":{"values":[{"mount":"/etc/hosts"}]},"encoding":{"x":{"field":"mount","type":"nominal","axis":null,"scale":{"range":[431.4,431.4],"padding":0}},"y":{"field":"mount","type":"nominal","axis":null,"scale":{"range":[273.7,273.7],"padding":0}},"color":{"field":"mount","type":"nominal","legend":null}},"layer":[{"mark":{"type":"square","size":45,"opacity":1,"filled":true}},{"mark":{"type":"text","align":"left","dx":9,"fontSize":11.3,"color":"#94a3b8"},"encoding":{"text":{"field":"mount"},"color":{"value":"#94a3b8"}}}]},{"data":{"values":[{"mount":"/tmp"}]},"encoding":{"x":{"field":"mount","type":"nominal","axis":null,"scale":{"range":[513,513],"padding":0}},"y":{"field":"mount","type":"nominal","axis":null,"scale":{"range":[273.7,273.7],"padding":0}},"color":{"field":"mount","type":"nominal","legend":null}},"layer":[{"mark":{"type":"square","size":45,"opacity":1,"filled":true}},{"mark":{"type":"text","align":"left","dx":9,"fontSize":11.3,"color":"#94a3b8"},"encoding":{"text":{"field":"mount"},"color":{"value":"#94a3b8"}}}]},{"data":{"values":[{"mount":"/var/lib/lighthouse"}]},"encoding":{"x":{"field":"mount","type":"nominal","axis":null,"scale":{"range":[566,566],"padding":0}},"y":{"field":"mount","type":"nominal","axis":null,"scale":{"range":[273.7,273.7],"padding":0}},"color":{"field":"mount","type":"nominal","legend":null}},"layer":[{"mark":{"type":"square","size":45,"opacity":1,"filled":true}},{"mark":{"type":"text","align":"left","dx":9,"fontSize":11.3,"color":"#94a3b8"},"encoding":{"text":{"field":"mount"},"color":{"value":"#94a3b8"}}}]}]}]},{"spacing":13,"hconcat":[{"width":972,"height":308,"title":{"text":"Network in","subtitle":"Receive throughput (bytes/sec)"},"view":{"stroke":"#253047","cornerRadius":9,"fill":"#141b2a"},"resolve":{"scale":{"x":"independent","y":"independent"}},"layer":[{"data":{"name":"netin"},"mark":{"type":"line","interpolate":"monotone","color":"#3b82f6","strokeWidth":2},"encoding":{"x":{"field":"t","type":"temporal","scale":{"range":[92,937]},"axis":{"offset":-55,"labelPadding":6,"format":"%H:%M","grid":true,"values":["2025-01-01T18:07:00","2025-01-01T18:08:30","2025-01-01T18:10:00","2025-01-01T18:11:30","2025-01-01T18:13:00","2025-01-01T18:14:30","2025-01-01T18:16:00","2025-01-01T18:17:30","2025-01-01T18:19:00","2025-01-01T18:20:30"],"labelOffset":{"condition":{"test":"datum.index>=1","value":-4},"value":0}}},"y":{"field":"v","type":"quantitative","scale":{"domain":[0,260],"nice":false,"range":[253,77]},"axis":{"offset":-91,"labelPadding":7,"grid":true,"values":[0,65,130,195,260],"labelExpr":"datum.value<100?format(datum.value,'.1f')+' B/s':format(datum.value,'.0f')+' B/s'","labelOffset":{"condition":{"test":"datum.index>=1","value":4.5},"value":0}}}}},{"data":{"values":[{"tabs":"Network in"}]},"mark":{"type":"rect","fill":"#1e293b","cornerRadius":6},"encoding":{"x":{"field":"tabs","type":"nominal","axis":null,"scale":{"type":"band","range":[788,948],"paddingInner":0,"paddingOuter":0}},"y":{"field":"tabs","type":"nominal","axis":null,"scale":{"type":"band","range":[24,50],"paddingInner":0,"paddingOuter":0}}}},{"data":{"values":[{"tab":"Bytes"}]},"encoding":{"x":{"field":"tab","type":"nominal","axis":null,"scale":{"type":"band","range":[791.7,837.7],"paddingInner":0,"paddingOuter":0}},"y":{"field":"tab","type":"nominal","axis":null,"scale":{"type":"band","range":[27.7,46.3],"paddingInner":0,"paddingOuter":0}}},"layer":[{"mark":{"type":"rect","fill":"#141b2a","cornerRadius":4}},{"mark":{"type":"text","fontSize":11.5,"fontWeight":600,"color":"#ffffff"},"encoding":{"text":{"field":"tab"}}}]},{"data":{"values":[{"tab":"Packets"},{"tab":"Errors"}]},"mark":{"type":"text","fontSize":11.5,"fontWeight":500,"color":"#94a3b8"},"encoding":{"text":{"field":"tab"},"x":{"field":"tab","type":"nominal","axis":null,"scale":{"domain":["Packets","Errors"],"range":[866.7,920],"padding":0}},"y":{"datum":"tabs","type":"nominal","axis":null,"scale":{"type":"band","range":[24,50],"paddingInner":0,"paddingOuter":0}}}}]},{"width":972,"height":308,"title":{"text":"Network out","subtitle":"Transmit throughput (bytes/sec)"},"view":{"stroke":"#253047","cornerRadius":9,"fill":"#141b2a"},"resolve":{"scale":{"x":"independent","y":"independent"}},"layer":[{"data":{"name":"netout"},"mark":{"type":"line","interpolate":"monotone","color":"#3b82f6","strokeWidth":2},"encoding":{"x":{"field":"t","type":"temporal","scale":{"range":[92,937]},"axis":{"offset":-55,"labelPadding":6,"format":"%H:%M","grid":true,"values":["2025-01-01T18:07:00","2025-01-01T18:08:30","2025-01-01T18:10:00","2025-01-01T18:11:30","2025-01-01T18:13:00","2025-01-01T18:14:30","2025-01-01T18:16:00","2025-01-01T18:17:30","2025-01-01T18:19:00","2025-01-01T18:20:30"],"labelOffset":{"condition":{"test":"datum.index>=1","value":-4},"value":0}}},"y":{"field":"v","type":"quantitative","scale":{"domain":[0,220],"nice":false,"range":[253,77]},"axis":{"offset":-91,"labelPadding":7,"grid":true,"values":[0,55,110,165,220],"labelExpr":"datum.value<100?format(datum.value,'.1f')+' B/s':format(datum.value,'.0f')+' B/s'","labelOffset":{"condition":{"test":"datum.index>=1","value":4.5},"value":0}}}}},{"data":{"values":[{"tabs":"Network out"}]},"mark":{"type":"rect","fill":"#1e293b","cornerRadius":6},"encoding":{"x":{"field":"tabs","type":"nominal","axis":null,"scale":{"type":"band","range":[788,948],"paddingInner":0,"paddingOuter":0}},"y":{"field":"tabs","type":"nominal","axis":null,"scale":{"type":"band","range":[24,50],"paddingInner":0,"paddingOuter":0}}}},{"data":{"values":[{"tab":"Bytes"}]},"encoding":{"x":{"field":"tab","type":"nominal","axis":null,"scale":{"type":"band","range":[791.7,837.7],"paddingInner":0,"paddingOuter":0}},"y":{"field":"tab","type":"nominal","axis":null,"scale":{"type":"band","range":[27.7,46.3],"paddingInner":0,"paddingOuter":0}}},"layer":[{"mark":{"type":"rect","fill":"#141b2a","cornerRadius":4}},{"mark":{"type":"text","fontSize":11.5,"fontWeight":600,"color":"#ffffff"},"encoding":{"text":{"field":"tab"}}}]},{"data":{"values":[{"tab":"Packets"},{"tab":"Errors"}]},"mark":{"type":"text","fontSize":11.5,"fontWeight":500,"color":"#94a3b8"},"encoding":{"text":{"field":"tab"},"x":{"field":"tab","type":"nominal","axis":null,"scale":{"domain":["Packets","Errors"],"range":[866.7,920],"padding":0}},"y":{"datum":"tabs","type":"nominal","axis":null,"scale":{"type":"band","range":[24,50],"paddingInner":0,"paddingOuter":0}}}}]}]}]}]}
